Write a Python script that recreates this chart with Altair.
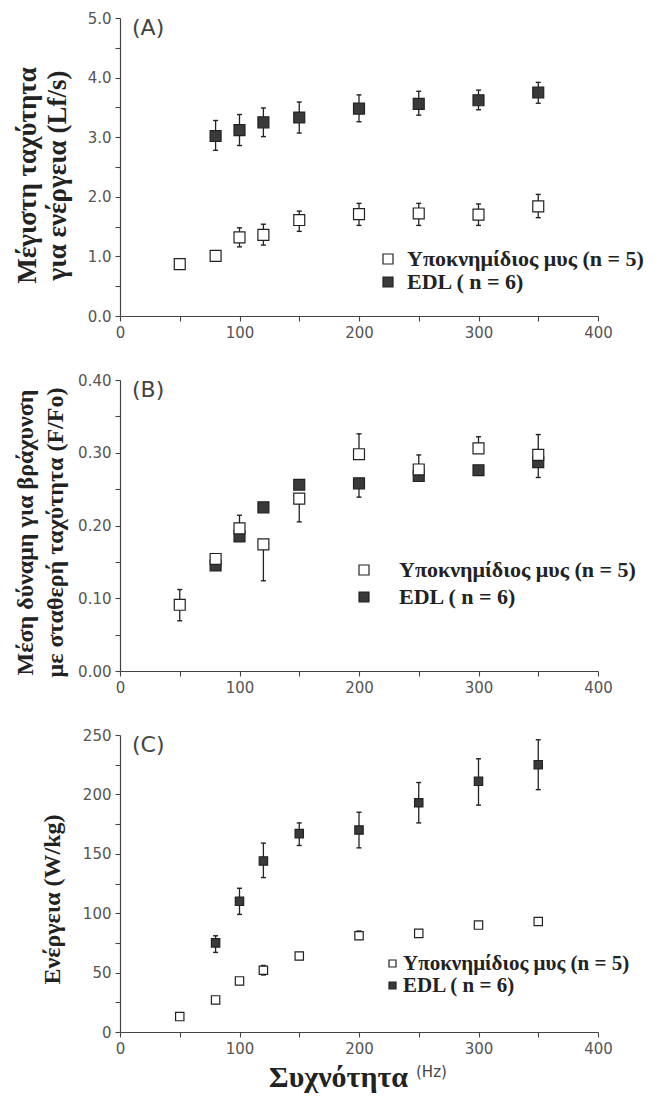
import altair as alt
import pandas as pd

SER_OPEN = "Υποκνημίδιος μυς (n = 5)"
SER_EDL = "EDL ( n = 6)"
SERIES = [SER_OPEN, SER_EDL]

freq_open = [50, 80, 100, 120, 150, 200, 250, 300, 350]
freq_edl = [80, 100, 120, 150, 200, 250, 300, 350]

# (A) Μέγιστη ταχύτητα για ενέργεια (Lf/s)
a_open = [0.87, 1.01, 1.32, 1.36, 1.61, 1.71, 1.72, 1.70, 1.84]
a_open_lo = [None, None, 1.16, 1.19, 1.42, 1.52, 1.52, 1.52, 1.65]
a_open_hi = [None, None, 1.48, 1.54, 1.76, 1.89, 1.89, 1.88, 2.04]
a_edl = [3.02, 3.12, 3.25, 3.33, 3.48, 3.56, 3.62, 3.75]
a_edl_lo = [2.78, 2.86, 3.01, 3.07, 3.26, 3.37, 3.46, 3.57]
a_edl_hi = [3.28, 3.38, 3.49, 3.59, 3.71, 3.77, 3.79, 3.92]

# (B) Μέση δύναμη για βράχυνση με σταθερή ταχύτητα (F/Fo)
b_open = [0.091, 0.154, 0.196, 0.174, 0.237, 0.298, 0.277, 0.306, 0.297]
b_open_lo = [0.069, None, None, 0.124, 0.205, None, None, None, None]
b_open_hi = [0.112, None, 0.214, None, None, 0.326, 0.297, 0.322, 0.325]
b_edl = [0.145, 0.185, 0.225, 0.256, 0.258, 0.268, 0.276, 0.287]
b_edl_lo = [None, None, None, None, 0.239, None, None, 0.266]
b_edl_hi = [None, None, None, None, None, None, None, None]

# (C) Ενέργεια (W/kg)
c_open = [13, 27, 43, 52, 64, 81, 83, 90, 93]
c_open_lo = [None, None, None, 48, None, 78, None, None, None]
c_open_hi = [None, None, None, 56, None, 85, None, None, None]
c_edl = [75, 110, 144, 167, 170, 193, 211, 225]
c_edl_lo = [67, 99, 130, 157, 155, 176, 191, 204]
c_edl_hi = [81, 121, 159, 176, 185, 210, 230, 246]

panel_tags = ["(A)", "(B)", "(C)"]
y_titles = [
    ["Μέγιστη ταχύτητα", "για ενέργεια (Lf/s)"],
    ["Μέση δύναμη για βράχυνση", "με σταθερή ταχύτητα (F/Fo)"],
    "Ενέργεια (W/kg)",
]
x_title_main = "Συχνότητα"
x_title_unit = "(Hz)"

x_ticks = [0, 50, 100, 150, 200, 250, 300, 350, 400]
a_ticks = [0.0, 0.5, 1.0, 1.5, 2.0, 2.5, 3.0, 3.5, 4.0, 4.5, 5.0]
b_ticks = [0.0, 0.05, 0.10, 0.15, 0.20, 0.25, 0.30, 0.35, 0.40]
c_ticks = [0, 25, 50, 75, 100, 125, 150, 175, 200, 225, 250]

SERIF = "Liberation Serif"
SANS = "DejaVu Sans"
INK = "#222222"
DARK = "#3a3a3a"
W = 478


def frames(open_v, open_lo, open_hi, edl_v, edl_lo, edl_hi):
    rows = []
    for f, v, lo, hi in zip(freq_edl, edl_v, edl_lo, edl_hi):
        rows.append(dict(freq=f, value=v, lo=lo, hi=hi, series=SER_EDL))
    for f, v, lo, hi in zip(freq_open, open_v, open_lo, open_hi):
        rows.append(dict(freq=f, value=v, lo=lo, hi=hi, series=SER_OPEN))
    bars, caps = [], []
    for r in rows:
        if r["lo"] is None and r["hi"] is None:
            continue
        lo = r["lo"] if r["lo"] is not None else r["value"]
        hi = r["hi"] if r["hi"] is not None else r["value"]
        bars.append(dict(freq=r["freq"], lo=lo, hi=hi))
        for c in (r["lo"], r["hi"]):
            if c is not None:
                caps.append(dict(freq=r["freq"], cap=c))
    pts = pd.DataFrame([{k: r[k] for k in ("freq", "value", "series")} for r in rows])
    return pts, pd.DataFrame(bars, columns=["freq", "lo", "hi"]), pd.DataFrame(caps, columns=["freq", "cap"])


def panel(data, height, ydom, yticks, yfmt, ylabexpr, ytitle, tfs, tx, ty, tag,
          lx, ly, lfont, lrow, loff, sq, sym, extra=None):
    pts, bars, caps = data
    xs = alt.Scale(domain=[0, 400], nice=False)
    xa = alt.Axis(values=x_ticks, format="d",
                  labelExpr="datum.value % 100 == 0 ? datum.label : ''", title=None)
    ys = alt.Scale(domain=ydom, nice=False)
    ya = alt.Axis(values=yticks, format=yfmt, labelExpr=ylabexpr, title=ytitle,
                  titleX=tx, titleY=ty, titleBaseline="middle", titleAlign="center",
                  titleAngle=270, titleFontSize=tfs)
    X = alt.X("freq:Q", scale=xs, axis=xa)
    rule = alt.Chart(bars).mark_rule(color=INK, strokeWidth=1.3).encode(
        x=X, y=alt.Y("lo:Q", scale=ys, axis=ya), y2="hi:Q")
    cap = alt.Chart(caps).mark_tick(orient="horizontal", size=5, thickness=1.4,
                                    color=INK, opacity=1).encode(
        x=X, y=alt.Y("cap:Q", scale=ys, axis=ya))
    pt = alt.Chart(pts).mark_square(size=sq, stroke=INK, strokeWidth=1.2, opacity=1).encode(
        x=X, y=alt.Y("value:Q", scale=ys, axis=ya),
        fill=alt.Fill("series:N", scale=alt.Scale(domain=SERIES, range=["white", DARK]),
                      sort=SERIES,
                      legend=alt.Legend(title=None, orient="none", legendX=lx, legendY=ly,
                                        labelFont=SERIF, labelFontWeight="bold",
                                        labelFontSize=lfont, labelColor=INK,
                                        labelLimit=400,
                                        symbolType="square", symbolSize=sym,
                                        symbolStrokeColor=INK, symbolStrokeWidth=1.2,
                                        symbolOpacity=1, rowPadding=lrow,
                                        labelOffset=loff, padding=0)))
    lab = alt.Chart(pd.DataFrame({"t": [tag]})).mark_text(
        font=SANS, fontSize=22, color="#444", align="left", baseline="middle").encode(
        x=alt.value(12), y=alt.value(10), text="t:N")
    layers = [rule, cap, pt, lab]
    if extra:
        layers += extra
    return alt.layer(*layers).properties(width=W, height=height)


pA = panel(frames(a_open, a_open_lo, a_open_hi, a_edl, a_edl_lo, a_edl_hi), 298,
           [0, 5], a_ticks, ".1f", "datum.value % 1 == 0 ? datum.label : ''",
           y_titles[0], 27, -93, 157, panel_tags[0], 257, 230, 22, 1, 8, 120, 100)

pB = panel(frames(b_open, b_open_lo, b_open_hi, b_edl, b_edl_lo, b_edl_hi), 291,
           [0, 0.4], b_ticks, ".2f", "round(datum.value * 100) % 10 == 0 ? datum.label : ''",
           y_titles[1], 24, -95, 152, panel_tags[1], 233, 179, 22, 5, 24, 120, 100)

xt = alt.Chart(pd.DataFrame({"t": [x_title_main]})).mark_text(
    font=SERIF, fontWeight="bold", fontSize=30, color=INK, align="right",
    baseline="alphabetic").encode(x=alt.value(288), y=alt.value(352), text="t:N")
hz = alt.Chart(pd.DataFrame({"t": [x_title_unit]})).mark_text(
    font=SANS, fontSize=15, color="#444", align="left",
    baseline="alphabetic").encode(x=alt.value(296), y=alt.value(342), text="t:N")

pC = panel(frames(c_open, c_open_lo, c_open_hi, c_edl, c_edl_lo, c_edl_hi), 297,
           [0, 250], c_ticks, "d", "datum.value % 50 == 0 ? datum.label : ''",
           y_titles[2], 24, -68, 164, panel_tags[2], 262, 218, 21, 0, 0, 70, 49, extra=[xt, hz])

chart = (
    alt.vconcat(pA, pB, pC, spacing=64, bounds="flush")
    .resolve_scale(fill="independent")
    .resolve_legend(fill="independent")
    .properties(padding={"left": 5, "top": 3, "right": 0, "bottom": 0}, background="white")
    .configure_view(stroke=None)
    .configure_axis(grid=False, domainColor="#444", domainWidth=1.2, tickColor="#444",
                    tickWidth=1.1, tickSize=5, labelFont=SANS, labelFontSize=15,
                    labelColor="#555", labelPadding=4, labelOverlap=False, labelFlush=False,
                    titleFont=SERIF, titleFontWeight="bold",
                    titleColor=INK, titleLineHeight=30)
)

chart.save("out.html", embed_options={"renderer": "svg", "actions": False})
